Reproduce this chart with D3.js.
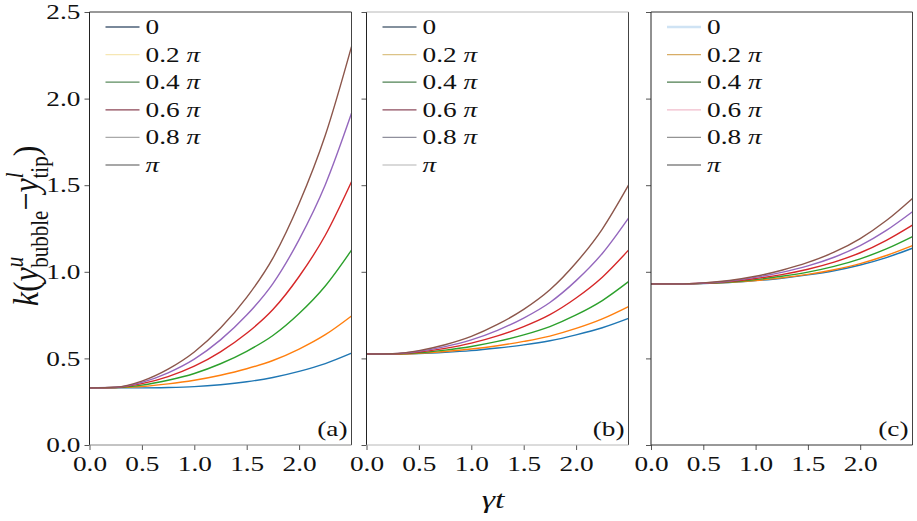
<!DOCTYPE html>
<html><head><meta charset="utf-8">
<script src="https://cdn.jsdelivr.net/npm/d3@7"></script>
<style>body{margin:0;background:#fff}svg{display:block}text{font-family:"Liberation Serif","DejaVu Serif",serif}</style>
</head><body>
<svg id="chart" width="917" height="521"></svg>
<script>
// ---- data ----
const times = [0, 0.25, 0.5, 0.75, 1.0, 1.25, 1.5, 1.75, 2.0, 2.25, 2.5];
const seriesLabels = ["0", "0.2 π", "0.4 π", "0.6 π", "0.8 π", "π"];
const xTicks = [0.0, 0.5, 1.0, 1.5, 2.0];
const yTicks = [0.0, 0.5, 1.0, 1.5, 2.0, 2.5];
const panelNames = ["(a)", "(b)", "(c)"];
const panelA = [
  [0.330, 0.330, 0.330, 0.332, 0.337, 0.348, 0.365, 0.390, 0.425, 0.470, 0.530],
  [0.330, 0.331, 0.338, 0.353, 0.374, 0.403, 0.440, 0.488, 0.554, 0.637, 0.745],
  [0.330, 0.332, 0.346, 0.374, 0.413, 0.469, 0.541, 0.632, 0.759, 0.918, 1.125],
  [0.330, 0.332, 0.354, 0.395, 0.455, 0.538, 0.645, 0.782, 0.973, 1.211, 1.520],
  [0.330, 0.333, 0.362, 0.417, 0.496, 0.607, 0.750, 0.932, 1.186, 1.503, 1.915],
  [0.330, 0.334, 0.369, 0.438, 0.537, 0.675, 0.852, 1.079, 1.394, 1.788, 2.300]
];
const panelB = [
  [0.525, 0.525, 0.528, 0.535, 0.545, 0.560, 0.578, 0.602, 0.636, 0.677, 0.731],
  [0.525, 0.525, 0.530, 0.540, 0.554, 0.573, 0.598, 0.629, 0.673, 0.728, 0.799],
  [0.525, 0.526, 0.533, 0.548, 0.569, 0.598, 0.636, 0.684, 0.751, 0.834, 0.943],
  [0.525, 0.526, 0.537, 0.558, 0.588, 0.630, 0.684, 0.753, 0.849, 0.969, 1.125],
  [0.525, 0.527, 0.541, 0.568, 0.607, 0.662, 0.733, 0.823, 0.949, 1.106, 1.310],
  [0.525, 0.527, 0.545, 0.579, 0.627, 0.696, 0.783, 0.896, 1.052, 1.247, 1.500]
];
const panelC = [
  [0.930, 0.930, 0.932, 0.938, 0.949, 0.963, 0.982, 1.006, 1.039, 1.082, 1.136],
  [0.930, 0.930, 0.933, 0.939, 0.950, 0.965, 0.985, 1.012, 1.047, 1.094, 1.151],
  [0.930, 0.930, 0.933, 0.941, 0.955, 0.974, 0.998, 1.031, 1.075, 1.132, 1.203],
  [0.930, 0.930, 0.934, 0.944, 0.961, 0.984, 1.015, 1.056, 1.110, 1.182, 1.270],
  [0.930, 0.930, 0.935, 0.947, 0.968, 0.997, 1.034, 1.084, 1.151, 1.239, 1.347],
  [0.930, 0.930, 0.936, 0.950, 0.974, 1.009, 1.054, 1.113, 1.192, 1.296, 1.424]
];
const lineColors = ["#1f77b4", "#ff7f0e", "#2ca02c", "#d62728", "#9467bd", "#8c564b"];
const legendColorsA = ["#4d6178", "#f6e7b4", "#5b8b5e", "#8c4656", "#a9a9a9", "#8a8a8a"];
const legendColorsB = ["#5a6b7d", "#dcc387", "#4f8253", "#8e4d5e", "#8f8f9c", "#cccccc"];
const legendColorsC = ["#cfe3f4", "#d8ad66", "#4c7c4e", "#f1bccb", "#939393", "#848484"];

// ---- layout ----
const svg = d3.select("#chart");
const plotTop = 12, plotBottom = 445;
const panels = [
  {x0: 89.5, x1: 351.5, data: panelA, leg: legendColorsA, showY: true, spineTB: "#333"},
  {x0: 366.5, x1: 628.5, data: panelB, leg: legendColorsB, showY: false, spineTB: "#b8b8b8"},
  {x0: 651, x1: 912.5, data: panelC, leg: legendColorsC, showY: false, spineTB: "#333"}
];
const SX = 1.3; // horizontal stretch of text as in the reference
const y = d3.scaleLinear().domain([0, 2.5]).range([plotBottom, plotTop]);

panels.forEach((p, pi) => {
  const x = d3.scaleLinear().domain([0, 2.5]).range([p.x0, p.x1]);
  const g = svg.append("g");

  // curves
  const line = d3.line().x((d, i) => x(times[i])).y(d => y(d)).curve(d3.curveMonotoneX);
  p.data.forEach((vals, si) => {
    g.append("path").attr("d", line(vals)).attr("fill", "none")
      .attr("stroke", lineColors[si]).attr("stroke-width", 1.4);
  });

  // x axis
  const xa = g.append("g").attr("transform", `translate(0,${plotBottom})`)
    .call(d3.axisBottom(x).tickValues(xTicks).tickFormat(d3.format(".1f")).tickSize(5).tickPadding(6));
  xa.select(".domain").remove();
  xa.selectAll(".tick line").attr("stroke", "#555");
  xa.selectAll("text").attr("font-size", 21).attr("fill", "#111")
    .attr("transform", `scale(${SX},1)`);

  // y axis
  const ya = g.append("g").attr("transform", `translate(${p.x0},0)`)
    .call(d3.axisLeft(y).tickValues(yTicks).tickFormat(p.showY ? d3.format(".1f") : () => "").tickSize(5).tickPadding(2));
  ya.select(".domain").remove();
  ya.selectAll(".tick line").attr("stroke", "#555");
  ya.selectAll("text").attr("font-size", 21).attr("fill", "#111")
    .attr("transform", `scale(${SX},1)`);

  // spines
  g.append("line").attr("x1", p.x0).attr("x2", p.x0).attr("y1", plotTop).attr("y2", plotBottom).attr("stroke", "#222");
  g.append("line").attr("x1", p.x1).attr("x2", p.x1).attr("y1", plotTop).attr("y2", plotBottom).attr("stroke", "#444");
  g.append("line").attr("x1", p.x0).attr("x2", p.x1).attr("y1", plotTop).attr("y2", plotTop).attr("stroke", p.spineTB);
  g.append("line").attr("x1", p.x0).attr("x2", p.x1).attr("y1", plotBottom).attr("y2", plotBottom).attr("stroke", pi === 0 ? "#888" : p.spineTB);

  // legend
  const lx = p.x0 + 16;
  seriesLabels.forEach((lab, si) => {
    const ly = 27 + si * 27.6;
    g.append("line").attr("x1", lx).attr("x2", lx + 34).attr("y1", ly).attr("y2", ly)
      .attr("stroke", p.leg[si]).attr("stroke-width", pi === 2 && si === 0 ? 2.5 : 1.3);
    const t = g.append("text").attr("transform", `translate(${lx + 40},${ly + 7}) scale(${SX},1)`)
      .attr("font-size", 21).attr("fill", "#111");
    if (lab === "π") {
      t.append("tspan").attr("font-style", "italic").text("π");
    } else if (lab.includes("π")) {
      t.append("tspan").text(lab.replace(" π", " "));
      t.append("tspan").attr("font-style", "italic").text("π");
    } else {
      t.text(lab);
    }
  });

  // panel label
  g.append("text").attr("transform", `translate(${p.x1 - 4},${plotBottom - 9}) scale(${SX},1)`)
    .attr("text-anchor", "end").attr("font-size", 21).attr("fill", "#111").text(panelNames[pi]);
});

// axis titles
const xt = svg.append("text").attr("transform", `translate(493,508) scale(${SX},1)`)
  .attr("text-anchor", "middle").attr("font-size", 26).attr("font-style", "italic").attr("fill", "#111");
xt.append("tspan").text("γt");

const yt = svg.append("text").attr("transform", `translate(38,226) rotate(-90) scale(1,1.15)`)
  .attr("text-anchor", "middle").attr("font-size", 32).attr("fill", "#111");
yt.append("tspan").attr("font-style", "italic").text("k");
yt.append("tspan").text("(");
yt.append("tspan").attr("font-style", "italic").text("y");
yt.append("tspan").attr("font-style", "italic").attr("font-size", 21).attr("dy", -13).text("u");
yt.append("tspan").attr("font-size", 21).attr("dx", -11).attr("dy", 22).text("bubble");
yt.append("tspan").attr("dy", -9).text("−");
yt.append("tspan").attr("font-style", "italic").text("y");
yt.append("tspan").attr("font-style", "italic").attr("font-size", 21).attr("dy", -13).text("l");
yt.append("tspan").attr("font-size", 21).attr("dx", -6).attr("dy", 22).text("tip");
yt.append("tspan").attr("dy", -9).text(")");
</script>
</body></html>
